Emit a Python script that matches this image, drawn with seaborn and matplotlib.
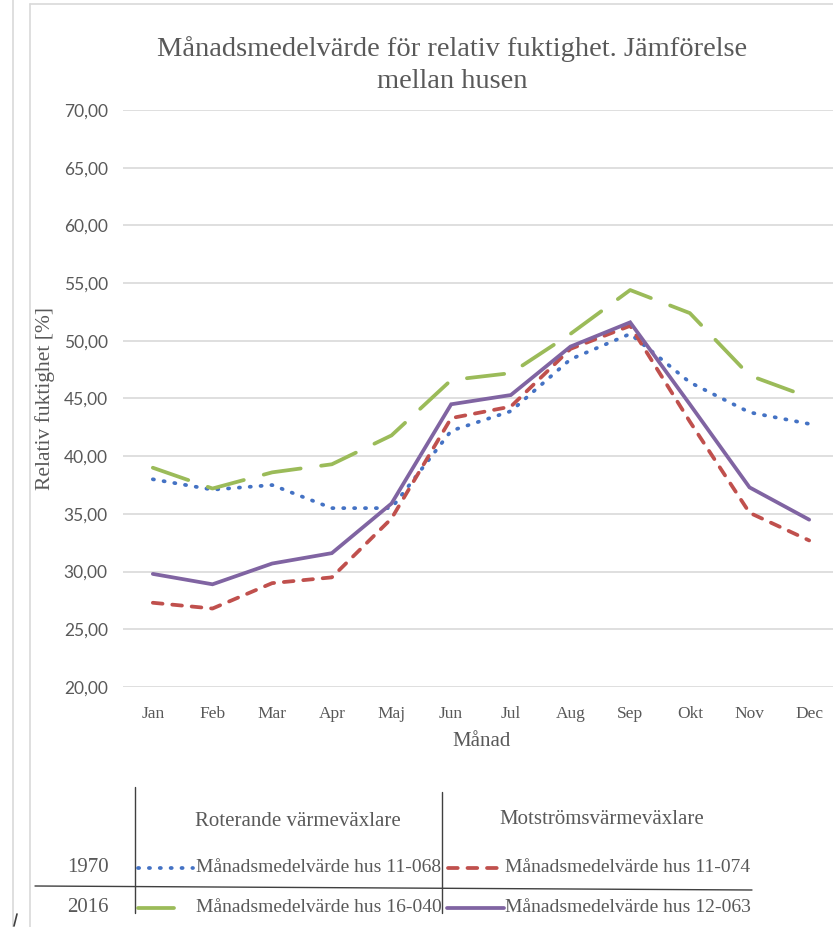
import matplotlib
matplotlib.use("Agg")
import matplotlib.pyplot as plt
from matplotlib.lines import Line2D
import seaborn as sns
import pandas as pd

# ---- data ----
months = ["Jan", "Feb", "Mar", "Apr", "Maj", "Jun", "Jul", "Aug", "Sep", "Okt", "Nov", "Dec"]
hus_11_068 = [38.0, 37.1, 37.5, 35.5, 35.5, 42.2, 43.9, 48.4, 50.6, 46.4, 43.8, 42.8]
hus_11_074 = [27.3, 26.8, 29.0, 29.5, 34.6, 43.3, 44.3, 49.3, 51.3, 43.0, 35.1, 32.7]
hus_16_040 = [39.0, 37.2, 38.6, 39.3, 41.8, 46.6, 47.2, 50.6, 54.4, 52.4, 47.0, 45.1]
hus_12_063 = [29.8, 28.9, 30.7, 31.6, 35.9, 44.5, 45.3, 49.5, 51.6, 44.5, 37.3, 34.5]
yticks = [20, 25, 30, 35, 40, 45, 50, 55, 60, 65, 70]
title = "Månadsmedelvärde för relativ fuktighet. Jämförelse\nmellan husen"
col_headers = ["Roterande värmeväxlare", "Motströmsvärmeväxlare"]
row_headers = ["1970", "2016"]
series_names = ["Månadsmedelvärde hus 11-068", "Månadsmedelvärde hus 11-074",
                "Månadsmedelvärde hus 16-040", "Månadsmedelvärde hus 12-063"]

W, H = 833, 927
sns.set_theme(style="white")
plt.rcParams["font.family"] = ["Liberation Serif", "DejaVu Serif"]
TXT = "#595959"

fig = plt.figure(figsize=(W / 100, H / 100), dpi=100)
fig.patch.set_facecolor("white")

def fx(px):
    return px / W

def fy(py):
    return 1 - py / H

# axes: x from 123 to 839 px, y from 110 to 687 px
ax = fig.add_axes([fx(123), fy(687), (839 - 123) / W, (687 - 110) / H])
ax.set_facecolor("white")

styles = [
    (hus_11_068, "#4472C4", (0, (0.3, 2.6))),
    (hus_11_074, "#C0504D", (0, (2.6, 2.6))),
    (hus_16_040, "#9BBB59", (0, (10.0, 5.5))),
    (hus_12_063, "#8064A2", "-"),
]
for vals, col, ls in styles:
    df = pd.DataFrame({"Månad": months, "RH": vals})
    sns.lineplot(data=df, x="Månad", y="RH", ax=ax, color=col, linewidth=2.7,
                 linestyle=ls, dash_capstyle="round", solid_joinstyle="miter",
                 sort=False, zorder=3)

ax.set_xlim(-0.5, 11.5)
ax.set_ylim(20, 70)
ax.set_yticks(yticks)
ax.set_yticklabels([f"{v:.2f}".replace(".", ",") for v in yticks],
                   fontfamily=["Lato", "DejaVu Sans"], fontsize=12.5, color=TXT)
ax.set_xticks(range(len(months)))
ax.set_xticklabels(months, fontsize=12.5, color=TXT)
ax.tick_params(axis="both", length=0)
ax.tick_params(axis="y", pad=11)
ax.tick_params(axis="x", pad=14)
ax.grid(axis="y", color="#d9d9d9", linewidth=1.2)
ax.grid(axis="x", visible=False)
ax.set_axisbelow(True)
for s in ax.spines.values():
    s.set_visible(False)
ax.set_xlabel("")
ax.set_ylabel("")

# axis titles & chart title
fig.text(fx(482), fy(741), "Månad", ha="center", va="center", fontsize=15, color=TXT)
fig.text(fx(45), fy(398), "Relativ fuktighet [%]", ha="center", va="center",
         rotation=90, fontsize=15.5, color=TXT)
fig.text(fx(452), fy(65), title, ha="center", va="center", fontsize=20.5,
         color=TXT, linespacing=1.35)

# chart frame
fig.add_artist(Line2D([fx(30), fx(30)], [fy(4), fy(H)], color="#d9d9d9", lw=1.2))
fig.add_artist(Line2D([fx(30), fx(W)], [fy(4), fy(4)], color="#d9d9d9", lw=1.2))
fig.add_artist(Line2D([fx(13), fx(13)], [fy(0), fy(H)], color="#d9d9d9", lw=1.2))
fig.add_artist(Line2D([fx(14), fx(17)], [fy(926), fy(914)], color="#404040", lw=1.2))

# legend table
LC = "#404040"
fig.add_artist(Line2D([fx(135), fx(135)], [fy(787), fy(913)], color=LC, lw=1))
fig.add_artist(Line2D([fx(442), fx(442)], [fy(792), fy(913)], color=LC, lw=1))
fig.add_artist(Line2D([fx(35), fx(752)], [fy(886), fy(890)], color=LC, lw=1))

fig.text(fx(298), fy(822), col_headers[0], ha="center", va="center", fontsize=15, color=TXT)
fig.text(fx(602), fy(820), col_headers[1], ha="center", va="center", fontsize=15, color=TXT)
fig.text(fx(88), fy(868), row_headers[0], ha="center", va="center", fontsize=15, color=TXT)
fig.text(fx(88), fy(908), row_headers[1], ha="center", va="center", fontsize=15, color=TXT)

legend_items = [
    (138, 193, 868, 196, series_names[0], styles[0]),
    (448, 503, 868, 505, series_names[1], styles[1]),
    (138, 174, 908, 196, series_names[2], styles[2]),
    (447, 504, 908, 505, series_names[3], styles[3]),
]
for x0, x1, yy, tx, name, (_, col, ls) in legend_items:
    fig.add_artist(Line2D([fx(x0), fx(x1)], [fy(yy), fy(yy)], color=col, lw=2.7,
                          linestyle=ls, dash_capstyle="round"))
    fig.text(fx(tx), fy(yy), name, ha="left", va="center", fontsize=14, color=TXT)

fig.savefig("out.png", dpi=100, facecolor="white")
